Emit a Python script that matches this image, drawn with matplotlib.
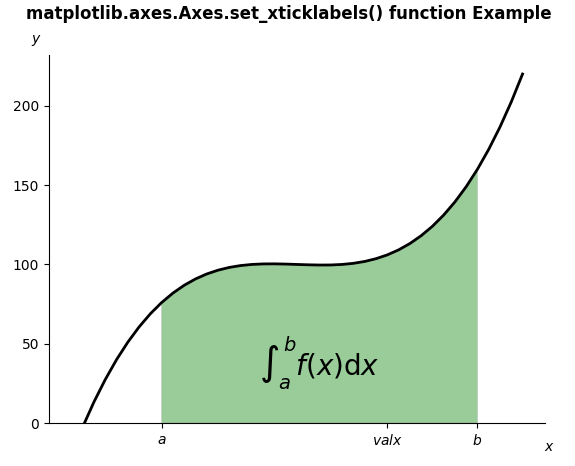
import matplotlib.pyplot as plt
from matplotlib.patches import Polygon
import numpy as np

# curve values
xs = [0, 0.25, 0.5, 0.75, 1, 1.25, 1.5, 1.75, 2, 2.25, 2.5, 2.75, 3, 3.25,
      3.5, 3.75, 4, 4.25, 4.5, 4.75, 5, 5.25, 5.5, 5.75, 6, 6.25, 6.5, 6.75,
      7, 7.25, 7.5, 7.75, 8, 8.25, 8.5, 8.75, 9, 9.25, 9.5, 9.75, 10]
ys = [-20, -2.42, 13.38, 27.48, 40, 51.02, 60.63, 68.92, 76, 81.95, 86.88,
      90.86, 94, 96.39, 98.13, 99.3, 100, 100.33, 100.38, 100.23, 100,
      99.77, 99.63, 99.67, 100, 100.7, 101.88, 103.61, 106, 109.14, 113.13,
      118.05, 124, 131.08, 139.38, 148.98, 160, 172.52, 186.63, 202.42, 220]

a, b = 2, 9
valx = 7
tick_pos = [a, valx, b]
tick_labels = ['$a$', '$valx$', '$b$']

x = np.array(xs)
y = np.array(ys)

fig = plt.figure(figsize=(5.75, 4.66), dpi=100)
ax = fig.add_axes([0.085, 0.092, 0.863, 0.79])

ax.plot(x, y, 'k', linewidth=2)
ax.set_ylim(bottom=0)

# shaded region under the curve between a and b
mask = (x >= a) & (x <= b)
verts = [(a, 0), *zip(x[mask], y[mask]), (b, 0)]
poly = Polygon(verts, facecolor='green', edgecolor='0.6', alpha=0.4,
               linewidth=0.6)
ax.add_patch(poly)

ax.text(0.5 * (a + b), 30, r"$\int_a^b f(x)\mathrm{d}x$",
        horizontalalignment='center', fontsize=20)

fig.text(0.955, 0.04, '$x$', ha='center', va='center')
fig.text(0.064, 0.914, '$y$', ha='center', va='center')

ax.spines['right'].set_visible(False)
ax.spines['top'].set_visible(False)

ax.set_xticks(tick_pos)
ax.set_xticklabels(tick_labels)

fig.suptitle('matplotlib.axes.Axes.set_xticklabels() function Example',
             fontweight='bold', x=0.503, y=0.99)

fig.savefig('out.png', dpi=100)
